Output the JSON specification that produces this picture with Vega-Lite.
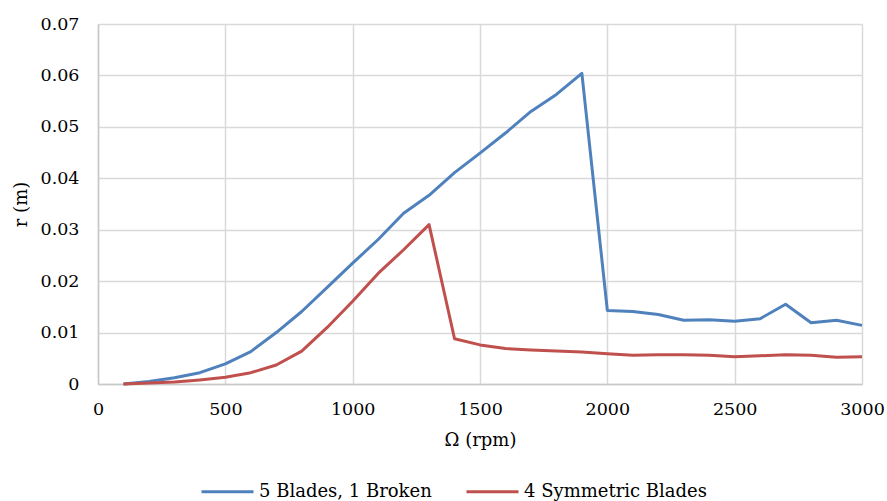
{
  "$schema": "https://vega.github.io/schema/vega-lite/v6.json",
  "width": 764,
  "height": 360,
  "autosize": {"type": "none"},
  "padding": {"left": 98, "top": 24, "right": 25, "bottom": 117},
  "background": "white",
  "config": {
    "font": "DejaVu Serif",
    "view": {"stroke": null},
    "axis": {
      "labelFont": "DejaVu Serif",
      "titleFont": "DejaVu Serif",
      "labelFontSize": 17.5,
      "titleFontSize": 18,
      "labelColor": "#000000",
      "titleColor": "#000000",
      "titleFontWeight": "normal",
      "gridColor": "#d9d9d9",
      "gridWidth": 1.5,
      "domainColor": "#c8c8c8",
      "domainWidth": 1.5,
      "ticks": false
    },
    "legend": {
      "labelFont": "DejaVu Serif",
      "labelFontSize": 18,
      "labelColor": "#000000",
      "labelLimit": 400
    }
  },
  "data": {
    "values": [
      {"rpm": 100, "r": 0.0, "series": "5 Blades, 1 Broken"},
      {"rpm": 200, "r": 0.0005, "series": "5 Blades, 1 Broken"},
      {"rpm": 300, "r": 0.0012, "series": "5 Blades, 1 Broken"},
      {"rpm": 400, "r": 0.0022, "series": "5 Blades, 1 Broken"},
      {"rpm": 500, "r": 0.0039, "series": "5 Blades, 1 Broken"},
      {"rpm": 600, "r": 0.0063, "series": "5 Blades, 1 Broken"},
      {"rpm": 700, "r": 0.0100, "series": "5 Blades, 1 Broken"},
      {"rpm": 800, "r": 0.0141, "series": "5 Blades, 1 Broken"},
      {"rpm": 900, "r": 0.0188, "series": "5 Blades, 1 Broken"},
      {"rpm": 1000, "r": 0.0235, "series": "5 Blades, 1 Broken"},
      {"rpm": 1100, "r": 0.0281, "series": "5 Blades, 1 Broken"},
      {"rpm": 1200, "r": 0.0332, "series": "5 Blades, 1 Broken"},
      {"rpm": 1300, "r": 0.0367, "series": "5 Blades, 1 Broken"},
      {"rpm": 1400, "r": 0.0411, "series": "5 Blades, 1 Broken"},
      {"rpm": 1500, "r": 0.0449, "series": "5 Blades, 1 Broken"},
      {"rpm": 1600, "r": 0.0488, "series": "5 Blades, 1 Broken"},
      {"rpm": 1700, "r": 0.0530, "series": "5 Blades, 1 Broken"},
      {"rpm": 1800, "r": 0.0563, "series": "5 Blades, 1 Broken"},
      {"rpm": 1900, "r": 0.0604, "series": "5 Blades, 1 Broken"},
      {"rpm": 2000, "r": 0.0143, "series": "5 Blades, 1 Broken"},
      {"rpm": 2100, "r": 0.0141, "series": "5 Blades, 1 Broken"},
      {"rpm": 2200, "r": 0.0135, "series": "5 Blades, 1 Broken"},
      {"rpm": 2300, "r": 0.0124, "series": "5 Blades, 1 Broken"},
      {"rpm": 2400, "r": 0.0125, "series": "5 Blades, 1 Broken"},
      {"rpm": 2500, "r": 0.0122, "series": "5 Blades, 1 Broken"},
      {"rpm": 2600, "r": 0.0127, "series": "5 Blades, 1 Broken"},
      {"rpm": 2700, "r": 0.0155, "series": "5 Blades, 1 Broken"},
      {"rpm": 2800, "r": 0.0119, "series": "5 Blades, 1 Broken"},
      {"rpm": 2900, "r": 0.0124, "series": "5 Blades, 1 Broken"},
      {"rpm": 3000, "r": 0.0114, "series": "5 Blades, 1 Broken"},
      {"rpm": 100, "r": 0.0, "series": "4 Symmetric Blades"},
      {"rpm": 200, "r": 0.0002, "series": "4 Symmetric Blades"},
      {"rpm": 300, "r": 0.0004, "series": "4 Symmetric Blades"},
      {"rpm": 400, "r": 0.0008, "series": "4 Symmetric Blades"},
      {"rpm": 500, "r": 0.0013, "series": "4 Symmetric Blades"},
      {"rpm": 600, "r": 0.0022, "series": "4 Symmetric Blades"},
      {"rpm": 700, "r": 0.0037, "series": "4 Symmetric Blades"},
      {"rpm": 800, "r": 0.0064, "series": "4 Symmetric Blades"},
      {"rpm": 900, "r": 0.0110, "series": "4 Symmetric Blades"},
      {"rpm": 1000, "r": 0.0161, "series": "4 Symmetric Blades"},
      {"rpm": 1100, "r": 0.0215, "series": "4 Symmetric Blades"},
      {"rpm": 1200, "r": 0.0261, "series": "4 Symmetric Blades"},
      {"rpm": 1300, "r": 0.0310, "series": "4 Symmetric Blades"},
      {"rpm": 1400, "r": 0.0088, "series": "4 Symmetric Blades"},
      {"rpm": 1500, "r": 0.0076, "series": "4 Symmetric Blades"},
      {"rpm": 1600, "r": 0.0069, "series": "4 Symmetric Blades"},
      {"rpm": 1700, "r": 0.0066, "series": "4 Symmetric Blades"},
      {"rpm": 1800, "r": 0.0064, "series": "4 Symmetric Blades"},
      {"rpm": 1900, "r": 0.0062, "series": "4 Symmetric Blades"},
      {"rpm": 2000, "r": 0.0059, "series": "4 Symmetric Blades"},
      {"rpm": 2100, "r": 0.0056, "series": "4 Symmetric Blades"},
      {"rpm": 2200, "r": 0.0057, "series": "4 Symmetric Blades"},
      {"rpm": 2300, "r": 0.0057, "series": "4 Symmetric Blades"},
      {"rpm": 2400, "r": 0.0056, "series": "4 Symmetric Blades"},
      {"rpm": 2500, "r": 0.0053, "series": "4 Symmetric Blades"},
      {"rpm": 2600, "r": 0.0055, "series": "4 Symmetric Blades"},
      {"rpm": 2700, "r": 0.0057, "series": "4 Symmetric Blades"},
      {"rpm": 2800, "r": 0.0056, "series": "4 Symmetric Blades"},
      {"rpm": 2900, "r": 0.0052, "series": "4 Symmetric Blades"},
      {"rpm": 3000, "r": 0.0053, "series": "4 Symmetric Blades"}
    ]
  },
  "mark": {"type": "line", "strokeWidth": 3, "strokeJoin": "round"},
  "encoding": {
    "x": {
      "field": "rpm",
      "type": "quantitative",
      "scale": {"domain": [0, 3000], "nice": false, "zero": true},
      "axis": {
        "title": "Ω (rpm)",
        "values": [0, 500, 1000, 1500, 2000, 2500, 3000],
        "format": "d",
        "labelPadding": 16,
        "titlePadding": 14,
        "labelFlush": false
      }
    },
    "y": {
      "field": "r",
      "type": "quantitative",
      "scale": {"domain": [0, 0.07], "nice": false},
      "axis": {
        "title": "r (m)",
        "values": [0, 0.01, 0.02, 0.03, 0.04, 0.05, 0.06, 0.07],
        "format": "~g",
        "labelPadding": 19,
        "titlePadding": 10,
        "labelFlush": false
      }
    },
    "color": {
      "field": "series",
      "type": "nominal",
      "sort": ["5 Blades, 1 Broken", "4 Symmetric Blades"],
      "scale": {
        "domain": ["5 Blades, 1 Broken", "4 Symmetric Blades"],
        "range": ["#4f81bd", "#c0504d"]
      },
      "legend": {
        "title": null,
        "orient": "none",
        "direction": "horizontal",
        "legendX": 102,
        "legendY": 440,
        "symbolType": "stroke",
        "symbolSize": 2704,
        "symbolStrokeWidth": 3,
        "labelOffset": 4,
        "columnPadding": 28
      }
    }
  }
}
